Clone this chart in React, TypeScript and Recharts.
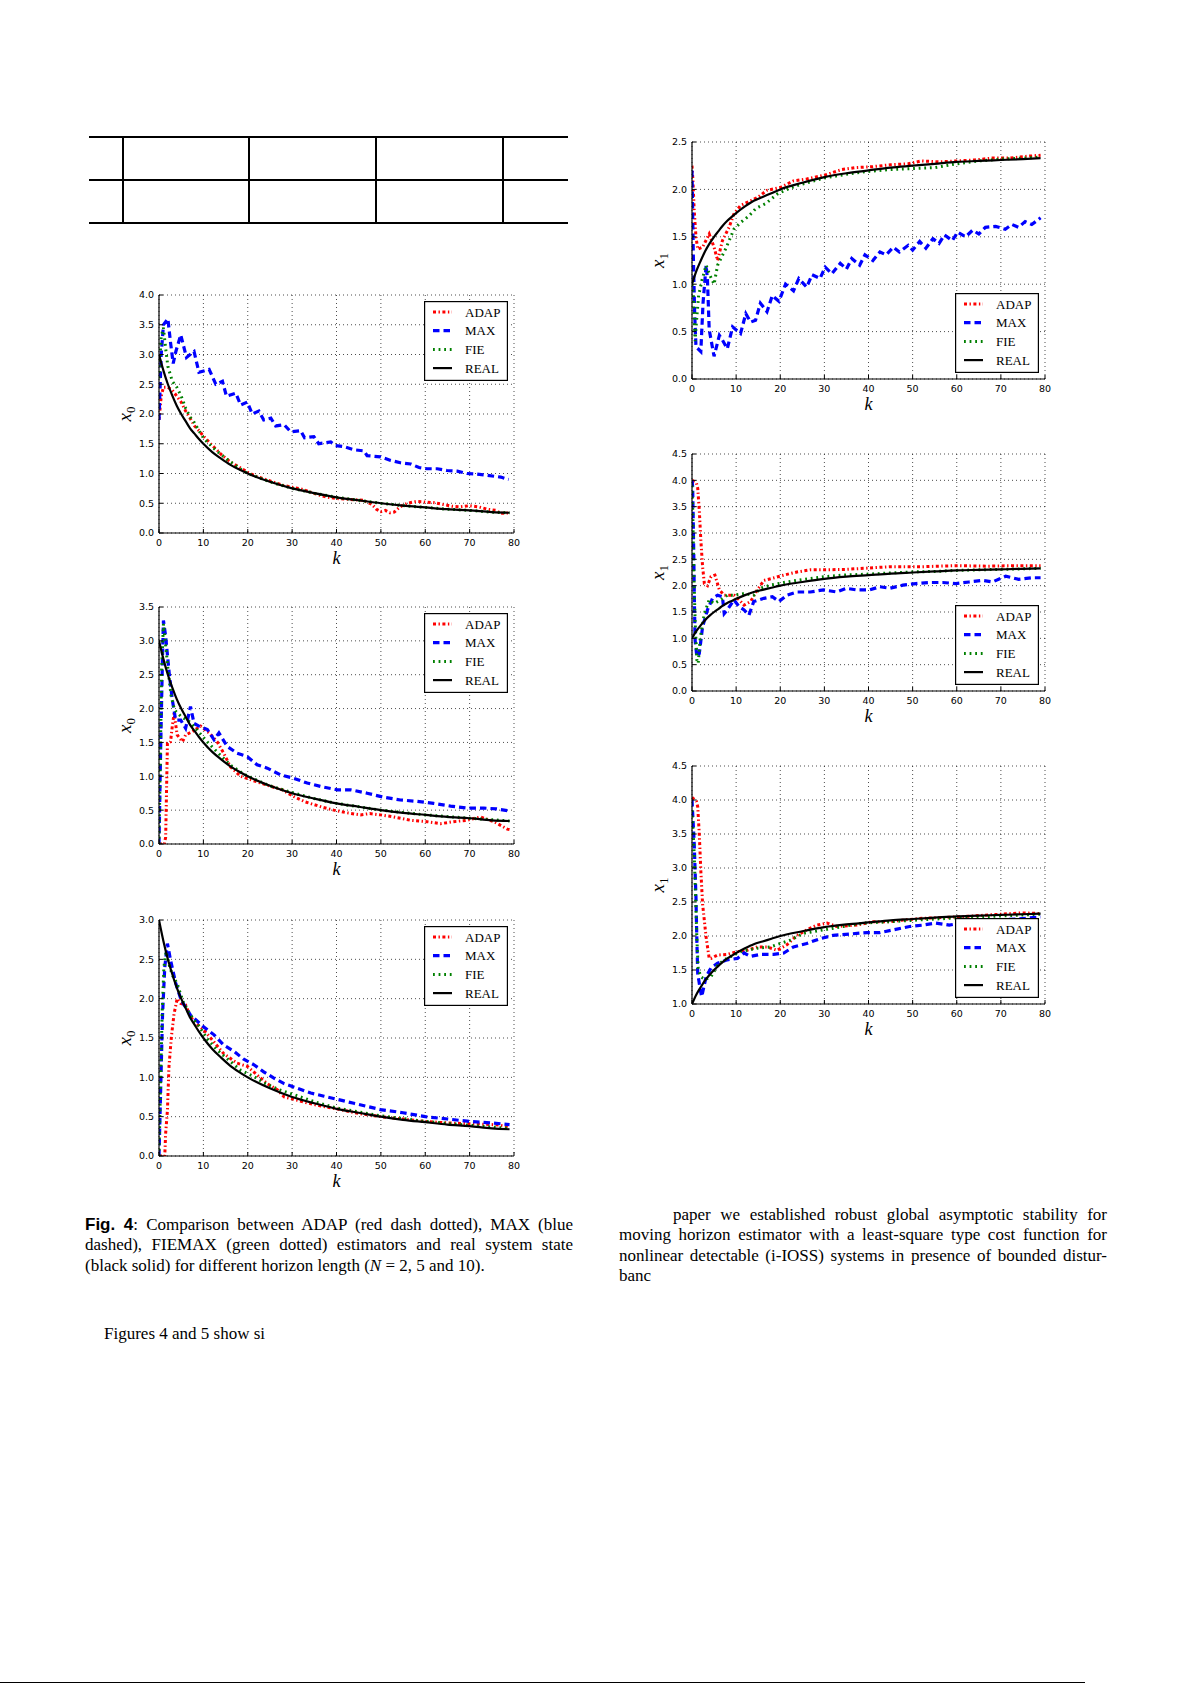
import React from 'react';
import { LineChart, Line, XAxis, YAxis, CartesianGrid, Legend } from 'recharts';

type P = [number, number][];

// ---------- tick labels / categories ----------
const K_TICKS = [0, 10, 20, 30, 40, 50, 60, 70, 80];
const Y_TICKS_L1 = [0, 0.5, 1, 1.5, 2, 2.5, 3, 3.5, 4];
const Y_TICKS_L2 = [0, 0.5, 1, 1.5, 2, 2.5, 3, 3.5];
const Y_TICKS_L3 = [0, 0.5, 1, 1.5, 2, 2.5, 3];
const Y_TICKS_R1 = [0, 0.5, 1, 1.5, 2, 2.5];
const Y_TICKS_R2 = [0, 0.5, 1, 1.5, 2, 2.5, 3, 3.5, 4, 4.5];
const Y_TICKS_R3 = [1, 1.5, 2, 2.5, 3, 3.5, 4, 4.5];
const SERIES_NAMES = ['ADAP', 'MAX', 'FIE', 'REAL'];

// ---------- real system state ----------
const REAL_X0: P = [[0,3.0],[1,2.73],[2,2.5],[3,2.31],[4,2.14],[5,2.0],[6,1.88],[7,1.76],[8,1.67],[9,1.58],[10,1.5],[12,1.36],[14,1.25],[16,1.15],[18,1.07],[20,1.0],[25,0.86],[30,0.75],[35,0.67],[40,0.6],[45,0.55],[50,0.5],[55,0.46],[60,0.43],[65,0.4],[70,0.38],[75,0.35],[79,0.34]];
const REAL_X1: P = [[0,1.0],[1,1.14],[2,1.25],[3,1.35],[4,1.43],[5,1.5],[6,1.56],[7,1.62],[8,1.67],[9,1.71],[10,1.75],[12,1.82],[14,1.88],[16,1.92],[18,1.96],[20,2.0],[25,2.07],[30,2.13],[35,2.17],[40,2.2],[45,2.23],[50,2.25],[55,2.27],[60,2.29],[65,2.3],[70,2.31],[75,2.32],[79,2.33]];

// ---------- left column, x0 ----------
const L1_ADAP: P = [[0,1.9],[0.5,2.3],[1,2.45],[2,2.45],[3,2.4],[4,2.3],[5,2.2],[6,2.05],[7,1.93],[8,1.8],[9,1.72],[10,1.63],[11,1.55],[12,1.47],[13,1.4],[14,1.32],[15,1.26],[16,1.2],[18,1.11],[20,1.02],[22,0.95],[24,0.9],[26,0.85],[28,0.8],[30,0.77],[32,0.74],[34,0.69],[36,0.64],[38,0.6],[40,0.58],[42,0.57],[44,0.56],[46,0.55],[48,0.48],[49,0.4],[50,0.36],[51,0.38],[52,0.34],[53,0.35],[54,0.42],[55,0.47],[56,0.5],[58,0.53],[60,0.52],[62,0.51],[64,0.48],[66,0.45],[68,0.44],[70,0.46],[72,0.44],[74,0.4],[76,0.38],[77,0.33],[79,0.34]];
const L1_MAX: P = [[0,1.9],[0.5,3.0],[1,3.5],[2,3.6],[2.6,3.2],[3.2,2.85],[3.8,3.05],[4.9,3.33],[6.2,2.95],[7.9,3.05],[9,2.7],[11.3,2.75],[12.8,2.5],[14.3,2.55],[15.2,2.3],[17.3,2.35],[18.4,2.15],[19.9,2.2],[21,2.0],[22.5,2.05],[23.6,1.9],[25.2,1.93],[26.3,1.8],[28.2,1.82],[29.7,1.7],[31.9,1.72],[32.8,1.6],[34.9,1.62],[36,1.5],[38.7,1.53],[39.8,1.47],[41.7,1.45],[43.9,1.4],[46.2,1.38],[46.9,1.3],[49.9,1.28],[52.2,1.22],[54.4,1.18],[56.7,1.16],[58.6,1.1],[60.4,1.08],[62.7,1.08],[64.9,1.05],[67.2,1.04],[69.4,1.0],[71.7,0.99],[73.9,0.97],[77,0.94],[78.8,0.9]];
const L1_FIE: P = [[0,2.6],[0.5,3.3],[1,3.45],[1.5,3.1],[2,2.8],[3,2.55],[4,2.45],[5,2.3],[6,2.1],[7,1.95],[8,1.85],[9,1.72],[10,1.6],[11,1.52],[12,1.45],[13,1.38],[14,1.32],[15,1.26],[16,1.2],[17,1.15],[18,1.09],[20,1.0],[25,0.86],[30,0.75],[35,0.67],[40,0.6],[45,0.55],[50,0.5],[55,0.46],[60,0.43],[65,0.4],[70,0.38],[75,0.35],[79,0.34]];

const L2_ADAP: P = [[0,0],[1.2,0],[1.5,0.1],[1.9,1.49],[2.6,1.51],[3,1.74],[3.4,1.93],[4.1,1.61],[5.3,1.51],[6,1.61],[7.5,1.66],[9.4,1.74],[11.3,1.64],[13.1,1.51],[14.6,1.34],[16.1,1.14],[18.4,1.0],[20.6,0.95],[22.9,0.9],[25.2,0.85],[27.8,0.8],[30.4,0.7],[33,0.62],[35,0.58],[37,0.54],[39.4,0.5],[42.4,0.46],[45.4,0.43],[47.5,0.45],[49.9,0.43],[52.9,0.4],[56.7,0.35],[60.4,0.33],[63.4,0.3],[66.4,0.33],[69.4,0.35],[72.4,0.4],[75.5,0.33],[78.5,0.22],[79.2,0.21]];
const L2_MAX: P = [[0,0],[0.4,1.5],[0.8,2.8],[1,3.3],[1.5,3.07],[2.3,2.52],[3,2.13],[3.75,1.83],[4.9,1.83],[6,1.71],[7.1,2.03],[7.9,1.78],[9,1.74],[10.9,1.69],[12.4,1.54],[13.5,1.64],[15.4,1.44],[17.6,1.34],[19.9,1.29],[22.1,1.17],[24.4,1.12],[27.4,1.02],[30.4,0.97],[33.4,0.9],[36.4,0.85],[40.2,0.8],[43.2,0.8],[46.9,0.75],[50.7,0.69],[54.4,0.65],[58.2,0.63],[61.9,0.6],[65.7,0.56],[69.4,0.53],[73.2,0.53],[76,0.52],[78.8,0.49]];
const L2_FIE: P = [[0,0],[0.3,1.3],[0.6,2.6],[1,3.25],[1.4,3.0],[2,2.6],[2.7,2.2],[3.5,1.98],[5,1.88],[7,1.8],[9,1.65],[11,1.5],[12.5,1.4],[14,1.3],[16,1.17],[18,1.08],[20,1.0],[25,0.86],[30,0.76],[35,0.67],[40,0.6],[50,0.5],[60,0.43],[70,0.38],[79,0.34]];

const L3_ADAP: P = [[0,0],[1.3,0],[1.5,0.29],[1.9,0.58],[2.25,1.14],[2.8,1.52],[3.4,1.81],[4.1,2.0],[4.9,1.94],[6,1.92],[7.1,1.77],[8.3,1.69],[10.1,1.6],[12.4,1.45],[14.6,1.3],[17.6,1.18],[19.9,1.14],[22.1,1.03],[24.4,0.92],[26.7,0.84],[28.2,0.75],[30.4,0.72],[33,0.68],[36,0.64],[40,0.6],[45,0.54],[50,0.5],[55,0.47],[60,0.44],[65,0.42],[70,0.41],[75,0.4],[77,0.39],[79,0.37]];
const L3_MAX: P = [[0,0],[0.4,0.9],[0.8,1.8],[1.3,2.4],[1.9,2.7],[2.6,2.49],[3.75,2.2],[5,1.98],[7.1,1.79],[10.1,1.64],[12.4,1.54],[14.6,1.41],[16.9,1.33],[19.1,1.23],[21.4,1.16],[23.6,1.07],[25.9,0.99],[28.2,0.92],[31.2,0.86],[34.2,0.8],[37.2,0.76],[40.2,0.72],[43.9,0.67],[46.9,0.63],[49.9,0.59],[55,0.55],[60,0.5],[65,0.47],[70,0.44],[75,0.42],[79,0.4]];
const L3_FIE: P = [[0,0],[0.3,0.8],[0.7,1.8],[1.1,2.4],[1.6,2.6],[2.2,2.45],[3,2.3],[4.1,2.19],[5.5,1.95],[7,1.8],[9,1.65],[11,1.48],[13.1,1.35],[15.5,1.23],[18.4,1.09],[21.4,1.01],[24,0.92],[26.7,0.85],[30.4,0.78],[35,0.69],[40,0.61],[50,0.51],[60,0.44],[70,0.39],[79,0.35]];

// ---------- right column, x1 ----------
const R1_ADAP: P = [[0,2.25],[0.2,2.1],[0.5,1.78],[0.9,1.5],[1.3,1.37],[2.4,1.39],[3.9,1.53],[5,1.39],[5.8,1.25],[6.9,1.46],[8.4,1.6],[9.5,1.74],[11,1.83],[13.3,1.88],[15,1.92],[17,1.99],[20,2.02],[23,2.09],[26,2.11],[30,2.15],[34,2.21],[37,2.23],[41,2.24],[45,2.26],[49,2.27],[52,2.3],[56,2.29],[60,2.3],[64,2.31],[68,2.33],[72,2.33],[76,2.35],[79,2.36]];
const R1_MAX: P = [[0,2.2],[0.3,1.3],[0.6,0.7],[0.9,0.34],[2,0.29],[2.5,0.8],[3.2,1.2],[3.5,1.05],[3.9,0.52],[5,0.24],[6.2,0.46],[6.9,0.41],[8,0.32],[9.2,0.55],[11,0.48],[12.2,0.69],[13.3,0.6],[14.4,0.62],[15.5,0.8],[17,0.71],[18.2,0.88],[19.7,0.82],[21.2,1.0],[23,0.93],[24.2,1.06],[26,0.97],[27.2,1.1],[29,1.06],[30.2,1.18],[31.7,1.11],[33.6,1.22],[35,1.16],[36.2,1.27],[38,1.2],[39.2,1.31],[41,1.25],[42.6,1.34],[44,1.31],[45.6,1.39],[47,1.34],[49,1.41],[50,1.36],[51.6,1.45],[53,1.38],[54.6,1.48],[56,1.43],[57.2,1.52],[59,1.46],[60.2,1.55],[62,1.5],[63.6,1.57],[65,1.53],[66.5,1.6],[68.8,1.61],[71,1.58],[72.5,1.63],[74,1.6],[75.5,1.66],[77,1.63],[79,1.7]];
const R1_FIE: P = [[0,1.0],[0.3,0.9],[0.7,0.4],[1,0.6],[1.5,0.88],[2.3,1.05],[3.2,1.2],[4,1.1],[5,1.0],[5.8,1.2],[7.7,1.38],[9.5,1.58],[11,1.65],[12.9,1.72],[14.5,1.8],[16.7,1.85],[19.3,1.95],[22,2.01],[24.5,2.05],[30,2.12],[35,2.16],[40,2.19],[45,2.21],[50,2.22],[55,2.23],[60,2.27],[65,2.3],[70,2.32],[75,2.33],[79,2.34]];

const R2_ADAP: P = [[0,4.0],[1,3.95],[1.3,3.85],[1.65,3.43],[2,2.87],[2.4,2.36],[2.8,2.04],[3.5,2.0],[4.3,2.17],[5.2,2.2],[6.2,1.92],[7.3,1.82],[9.5,1.82],[10.7,1.73],[11.8,1.63],[13.3,1.7],[14.8,1.92],[16.3,2.1],[18.2,2.14],[20.8,2.2],[23.8,2.26],[26.8,2.3],[30,2.3],[35,2.31],[39,2.33],[45,2.36],[52,2.36],[60,2.38],[67,2.37],[73,2.38],[79,2.38]];
const R2_MAX: P = [[0,4.0],[0.15,3.88],[0.4,2.6],[0.55,1.66],[0.7,0.97],[1.1,0.65],[1.65,0.71],[2.4,1.22],[3.5,1.54],[4.65,1.76],[5.8,1.82],[6.9,1.79],[7.3,1.47],[8,1.54],[9.5,1.73],[10.7,1.6],[11.8,1.54],[12.9,1.44],[14,1.7],[16.3,1.76],[18.2,1.79],[19.7,1.7],[21.5,1.82],[23.8,1.88],[26.8,1.88],[29.8,1.92],[32.8,1.88],[35,1.95],[37.3,1.92],[40.3,1.92],[42.6,1.98],[44.8,1.95],[47.8,2.01],[50.8,2.04],[53.8,2.06],[56.8,2.06],[59.8,2.04],[62.8,2.07],[65.8,2.1],[68.1,2.07],[71.1,2.18],[74,2.12],[77,2.15],[79,2.15]];
const R2_FIE: P = [[0,3.9],[0.15,3.5],[0.4,2.3],[0.7,1.35],[1.1,0.59],[1.4,0.52],[1.9,1.03],[2.8,1.47],[3.9,1.73],[5,1.66],[6.5,1.73],[8,1.82],[9.5,1.82],[11.8,1.85],[14,1.82],[15.5,1.95],[17.8,2.01],[20.8,2.06],[25.3,2.12],[29.8,2.17],[34.3,2.2],[40,2.22],[45,2.24],[50,2.26],[55,2.27],[60,2.29],[65,2.3],[70,2.31],[75,2.32],[79,2.33]];

const R3_ADAP: P = [[0,4.04],[1,3.98],[1.3,3.9],[1.65,3.5],[2,2.96],[2.4,2.47],[3.2,1.98],[3.9,1.67],[4.3,1.67],[5.8,1.72],[8,1.73],[10.3,1.77],[12.5,1.79],[14.8,1.84],[17,1.84],[19.3,1.79],[21.5,1.87],[23.8,2.01],[26,2.09],[28.3,2.16],[30.6,2.19],[32.8,2.14],[37.3,2.16],[41,2.21],[44.8,2.21],[48.6,2.24],[52.3,2.26],[59.8,2.28],[67.3,2.31],[74.8,2.34],[79,2.33]];
const R3_MAX: P = [[0,4.0],[0.5,3.36],[0.9,2.57],[1.1,1.93],[1.3,1.45],[1.9,1.2],[2.2,1.11],[3.2,1.4],[4.3,1.53],[5.8,1.6],[8,1.65],[10.3,1.67],[11.8,1.75],[13.3,1.7],[15.5,1.73],[18.5,1.73],[20.8,1.75],[23,1.84],[26,1.89],[29,1.96],[32,2.01],[35.8,2.03],[39.6,2.05],[42.6,2.05],[45.6,2.09],[49.3,2.14],[52.3,2.16],[55.3,2.19],[58.3,2.16],[62,2.2],[66,2.2],[70,2.24],[74,2.25],[79,2.28]];
const R3_FIE: P = [[0,3.85],[0.5,3.2],[0.9,2.4],[1.1,1.97],[1.4,1.52],[2,1.4],[3,1.36],[4.3,1.4],[5.8,1.57],[7.3,1.65],[11,1.77],[14.8,1.82],[17.8,1.84],[20,1.89],[22.3,1.94],[25.3,2.04],[29.8,2.09],[34.3,2.14],[38.8,2.19],[44.8,2.21],[52.3,2.24],[58.3,2.26],[65,2.28],[72,2.3],[79,2.32]];

// ---------- styles ----------
const STYLE: Record<string, { stroke: string; width: number; dash?: string }> = {
  ADAP: { stroke: '#ff0000', width: 3, dash: '3 2.5 1.4 2.5' },
  MAX: { stroke: '#0000ff', width: 3.2, dash: '6.5 4' },
  FIE: { stroke: '#008000', width: 3, dash: '1.8 3.8' },
  REAL: { stroke: '#000000', width: 2.2 },
};

const rows = (pts: P) => pts.map(([k, v]) => ({ k, v }));

const TICK_FONT = { fontSize: 9.5, fill: '#000', fontFamily: 'DejaVu Sans' };

const YLab = (props: any) => {
  const vb = props.viewBox || { x: 0, y: 0, width: 58, height: 0 };
  const cx = vb.x + vb.width - 33;
  const cy = vb.y + vb.height / 2;
  return (
    <text transform={`translate(${cx},${cy}) rotate(-90)`} textAnchor="middle" y={5} fontFamily="Liberation Serif" fill="#000">
      <tspan fontStyle="italic" fontSize={19}>x</tspan>
      <tspan fontSize={13} dy={4}>{props.sub}</tspan>
    </text>
  );
};

const XLab = (props: any) => {
  const vb = props.viewBox || { x: 0, y: 0, width: 0 };
  return (
    <text x={vb.x + vb.width / 2} y={vb.y + 31} textAnchor="middle" fontFamily="Liberation Serif" fontStyle="italic" fontSize={18} fill="#000">k</text>
  );
};

const LegendBox = () => (
  <svg width={84} height={80} style={{ display: 'block' }}>
    <rect x={0.6} y={0.6} width={82.8} height={78.8} fill="#fff" stroke="#000" strokeWidth={1.2} />
    {SERIES_NAMES.map((n, i) => {
      const cy = 11 + i * 18.7;
      const s = STYLE[n];
      return (
        <g key={n}>
          <line x1={9} x2={28} y1={cy} y2={cy} stroke={s.stroke} strokeWidth={s.width} strokeDasharray={s.dash} />
          <text x={41} y={cy + 4.5} fontFamily="Liberation Serif" fontSize={13} fill="#000">{n}</text>
        </g>
      );
    })}
  </svg>
);

type Cfg = {
  left: number; top: number; w: number; h: number;
  yDomain: [number, number]; yTicks: number[]; sub: string; legend: 'top' | 'bottom';
  adap: P; max: P; fie: P; real: P;
};

const PLOTS: Cfg[] = [
  { left: 158.5, top: 295, w: 355, h: 238, yDomain: [0, 4], yTicks: Y_TICKS_L1, sub: '0', legend: 'top', adap: L1_ADAP, max: L1_MAX, fie: L1_FIE, real: REAL_X0 },
  { left: 158.5, top: 607, w: 355, h: 237, yDomain: [0, 3.5], yTicks: Y_TICKS_L2, sub: '0', legend: 'top', adap: L2_ADAP, max: L2_MAX, fie: L2_FIE, real: REAL_X0 },
  { left: 158.5, top: 920, w: 355, h: 236, yDomain: [0, 3], yTicks: Y_TICKS_L3, sub: '0', legend: 'top', adap: L3_ADAP, max: L3_MAX, fie: L3_FIE, real: REAL_X0 },
  { left: 691.5, top: 142, w: 353, h: 237, yDomain: [0, 2.5], yTicks: Y_TICKS_R1, sub: '1', legend: 'bottom', adap: R1_ADAP, max: R1_MAX, fie: R1_FIE, real: REAL_X1 },
  { left: 691.5, top: 454, w: 353, h: 237, yDomain: [0, 4.5], yTicks: Y_TICKS_R2, sub: '1', legend: 'bottom', adap: R2_ADAP, max: R2_MAX, fie: R2_FIE, real: REAL_X1 },
  { left: 691.5, top: 766, w: 353, h: 238, yDomain: [1, 4.5], yTicks: Y_TICKS_R3, sub: '1', legend: 'bottom', adap: R3_ADAP, max: R3_MAX, fie: R3_FIE, real: REAL_X1 },
];

function Plot({ cfg }: { cfg: Cfg }) {
  const ML = 58, MT = 10, MR = 12, XH = 45;
  const width = ML + cfg.w + MR;
  const height = MT + cfg.h + XH;
  const legLeft = ML + cfg.w - 6 - 84;
  const legTop = cfg.legend === 'top' ? MT + 6 : MT + cfg.h - 6 - 80;
  const series: [string, P][] = [['ADAP', cfg.adap], ['MAX', cfg.max], ['FIE', cfg.fie], ['REAL', cfg.real]];
  return (
    <div style={{ position: 'absolute', left: cfg.left - ML, top: cfg.top - MT }}>
      <LineChart width={width} height={height} margin={{ top: MT, right: MR, bottom: 0, left: 0 }}>
        <CartesianGrid stroke="#000" strokeDasharray="1 3" strokeWidth={0.7} />
        <XAxis dataKey="k" type="number" domain={[0, 80]} ticks={K_TICKS} allowDataOverflow interval={0}
          height={XH} tickSize={-4} tickMargin={10} tick={TICK_FONT}
          axisLine={{ stroke: '#000', strokeWidth: 1.2 }} tickLine={{ stroke: '#000' }} label={<XLab />} />
        <XAxis xAxisId="top" orientation="top" dataKey="k" type="number" domain={[0, 80]} ticks={K_TICKS} allowDataOverflow interval={0}
          height={0} tickSize={-4} tick={false} axisLine={{ stroke: '#000', strokeWidth: 1.2 }} tickLine={{ stroke: '#000' }} />
        <YAxis type="number" domain={cfg.yDomain} ticks={cfg.yTicks} allowDataOverflow interval={0}
          width={ML} tickSize={-4} tickMargin={9} tick={TICK_FONT} tickFormatter={(v: number) => v.toFixed(1)}
          axisLine={{ stroke: '#000', strokeWidth: 1.2 }} tickLine={{ stroke: '#000' }} label={<YLab sub={cfg.sub} />} />
        <YAxis yAxisId="right" orientation="right" type="number" domain={cfg.yDomain} ticks={cfg.yTicks} allowDataOverflow interval={0}
          width={0} tickSize={-4} tick={false} axisLine={{ stroke: '#000', strokeWidth: 1.2 }} tickLine={{ stroke: '#000' }} />
        <Legend layout="horizontal" verticalAlign="middle" align="center"
          wrapperStyle={{ left: legLeft, top: legTop, width: 84, height: 80 }} content={<LegendBox />} />
        {series.map(([name, pts]) => (
          <Line key={name} data={rows(pts)} dataKey="v" name={name} type={name === 'REAL' ? 'monotone' : 'linear'}
            stroke={STYLE[name].stroke} strokeWidth={STYLE[name].width} strokeDasharray={STYLE[name].dash}
            dot={false} activeDot={false} isAnimationActive={false} />
        ))}
      </LineChart>
    </div>
  );
}

const serif = "'Liberation Serif', 'Times New Roman', serif";
const lineStyle = (last: boolean): React.CSSProperties => ({
  textAlign: 'justify',
  textAlignLast: last ? 'left' : 'justify',
  height: 20.4,
});

export default function App() {
  const hLines = [137, 180, 223];
  const vLines = [123, 249, 376, 503];
  return (
    <div style={{ position: 'absolute', left: 0, top: 0, width: 1192, height: 1685, background: '#fff', overflow: 'hidden', fontFamily: serif, color: '#000' }}>
      {/* table fragment */}
      {hLines.map((y) => (
        <div key={'h' + y} style={{ position: 'absolute', left: 89, top: y - 0.6, width: 479, height: 1.3, background: '#000' }} />
      ))}
      {vLines.map((x) => (
        <div key={'v' + x} style={{ position: 'absolute', left: x - 0.6, top: 137, width: 1.3, height: 86, background: '#000' }} />
      ))}

      {PLOTS.map((c, i) => <Plot key={i} cfg={c} />)}

      {/* caption */}
      <div style={{ position: 'absolute', left: 85, top: 1215, width: 488, fontSize: 17, lineHeight: '20.4px' }}>
        <div style={lineStyle(false)}>
          <span style={{ fontFamily: "'Liberation Sans', Arial, sans-serif", fontWeight: 'bold' }}>Fig. 4</span>: Comparison between ADAP (red dash dotted), MAX (blue
        </div>
        <div style={lineStyle(false)}>
          dashed), FIEMAX (green dotted) estimators and real system state
        </div>
        <div style={lineStyle(true)}>
          (black solid) for different horizon length (<i>N</i> = 2, 5 and 10).
        </div>
      </div>

      {/* right column text */}
      <div style={{ position: 'absolute', left: 619, top: 1205, width: 488, fontSize: 17, lineHeight: '20.4px' }}>
        <div style={{ ...lineStyle(false), paddingLeft: 54 }}>paper we established robust global asymptotic stability for</div>
        <div style={lineStyle(false)}>moving horizon estimator with a least-square type cost function for</div>
        <div style={lineStyle(false)}>nonlinear detectable (i-IOSS) systems in presence of bounded distur-</div>
        <div style={lineStyle(true)}>banc</div>
      </div>

      <div style={{ position: 'absolute', left: 104, top: 1324, fontSize: 17, lineHeight: '20.4px' }}>Figures 4 and 5 show si</div>

      <div style={{ position: 'absolute', left: 0, top: 1682, width: 1085, height: 1.3, background: '#000' }} />
    </div>
  );
}
